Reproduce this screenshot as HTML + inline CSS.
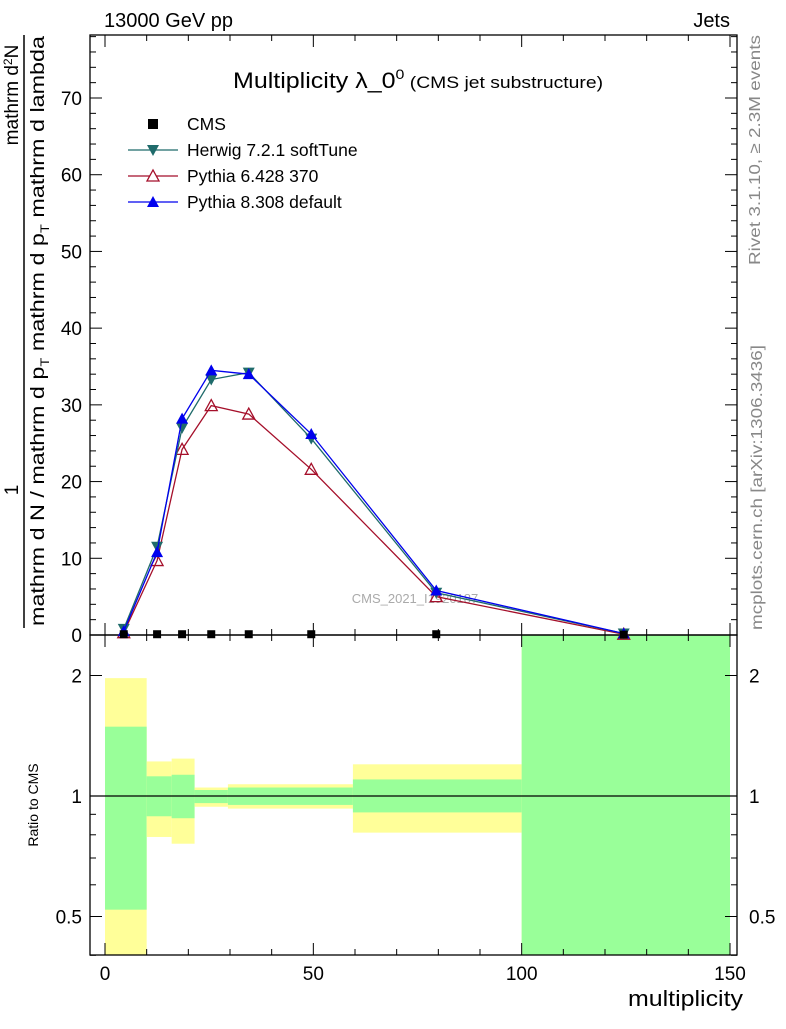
<!DOCTYPE html>
<html><head><meta charset="utf-8"><style>
body{margin:0;background:#fff;font-family:"Liberation Sans",sans-serif}
</style></head><body>
<svg id="c" width="786" height="1024" xmlns="http://www.w3.org/2000/svg" font-family="Liberation Sans, sans-serif">
<text x="104" y="27" font-size="20">13000 GeV pp</text>
<text x="730" y="27" font-size="20" text-anchor="end">Jets</text>
<text x="233" y="88" font-size="22" textLength="370" lengthAdjust="spacingAndGlyphs">Multiplicity λ_0<tspan font-size="14" dy="-9">0</tspan><tspan font-size="17" dy="9"> (CMS jet substructure)</tspan></text>
<text transform="translate(760,265) rotate(-90)" font-size="16" fill="#888" textLength="230" lengthAdjust="spacingAndGlyphs">Rivet 3.1.10, ≥ 2.3M events</text>
<text transform="translate(762,630) rotate(-90)" font-size="16" fill="#888" textLength="285" lengthAdjust="spacingAndGlyphs">mcplots.cern.ch [arXiv:1306.3436]</text>
<text x="415" y="603" font-size="13" fill="#aaa" text-anchor="middle">CMS_2021_I1920187</text>
<g>
<text transform="translate(18,95) rotate(-90)" font-size="19" text-anchor="middle">mathrm d<tspan font-size="12" dy="-6">2</tspan><tspan dy="6">N</tspan></text>
<text transform="translate(18,490) rotate(-90)" font-size="19" text-anchor="middle">1</text>
<line x1="24" y1="35" x2="24" y2="628" stroke="#000" stroke-width="1.5"/>
<text transform="translate(44,626) rotate(-90)" font-size="19" textLength="590" lengthAdjust="spacingAndGlyphs">mathrm d N / mathrm d p<tspan font-size="12" dy="5">T</tspan><tspan dy="-5"> mathrm d p</tspan><tspan font-size="12" dy="5">T</tspan><tspan dy="-5"> mathrm d lambda</tspan></text>
</g>
<text transform="translate(38,805) rotate(-90)" font-size="14" text-anchor="middle">Ratio to CMS</text>
<text x="743" y="1006" font-size="22" text-anchor="end" textLength="115" lengthAdjust="spacingAndGlyphs">multiplicity</text>
<g id="main"></g>
</svg>
<script>
const xVals=[4.5,12.5,18.5,25.5,34.5,49.5,79.5,124.5];
const cms=[0.1,0.1,0.1,0.1,0.1,0.1,0.1,0.05];
const herwig=[0.8,11.5,27.0,33.3,34.2,25.6,5.5,0.2];
const py6=[0.3,9.7,24.2,29.9,28.8,21.6,5.0,0.1];
const py8=[0.5,10.8,28.2,34.5,34.0,26.2,5.8,0.2];
const binEdges=[0,10,16,21.5,29.5,59.5,100,150];
const yelLo=[0.36,0.79,0.76,0.94,0.93,0.81,0.35];
const yelHi=[1.97,1.22,1.24,1.05,1.07,1.20,2.6];
const grnLo=[0.52,0.89,0.88,0.96,0.95,0.91,0.35];
const grnHi=[1.49,1.12,1.13,1.035,1.05,1.10,2.6];
const xTicks=[0,50,100,150];
const yTicks=[0,10,20,30,40,50,60,70];
const rTicks=[0.5,1,2];
const NS="http://www.w3.org/2000/svg";
const g=document.getElementById('main');
const L=90,R=737,T=35,M=635,B=955;
const X=v=>105+v*(625/150);
const Y=v=>635-v*(537/70);
const RY=v=>796-Math.log2(v)*120.5;
function mk(t,a,p){const e=document.createElementNS(NS,t);for(const k in a)e.setAttribute(k,a[k]);(p||g).appendChild(e);return e;}
const clip=mk('clipPath',{id:'rc'});mk('rect',{x:L,y:M,width:R-L,height:B-M},clip);
const rg=mk('g',{'clip-path':'url(#rc)'});
for(let i=0;i<yelLo.length;i++){
 const x0=X(binEdges[i]),x1=X(binEdges[i+1]);
 const y=mk('rect',{x:x0,y:RY(yelHi[i]),width:x1-x0,height:RY(yelLo[i])-RY(yelHi[i]),fill:'#ffff99'},rg);
 
 
 const gr=mk('rect',{x:x0,y:RY(grnHi[i]),width:x1-x0,height:RY(grnLo[i])-RY(grnHi[i]),fill:'#99ff99'},rg);
 
 
}
mk('line',{x1:L,x2:R,y1:RY(1),y2:RY(1),stroke:'#000','stroke-width':1.2});
mk('rect',{x:L,y:T,width:R-L,height:M-T,fill:'none',stroke:'#000','stroke-width':1.3});
mk('rect',{x:L,y:M,width:R-L,height:B-M,fill:'none',stroke:'#000','stroke-width':1.3});
for(let v=0;v<=150;v+=10){const x=X(v),len=v%50==0?12:6;
 mk('line',{x1:x,x2:x,y1:M,y2:M-len,stroke:'#000'});mk('line',{x1:x,x2:x,y1:T,y2:T+len,stroke:'#000'});
 mk('line',{x1:x,x2:x,y1:B,y2:B-len,stroke:'#000'});mk('line',{x1:x,x2:x,y1:M,y2:M+len,stroke:'#000'});}
xTicks.forEach(v=>{const t=mk('text',{x:X(v),y:980,'font-size':19,'text-anchor':'middle'});t.textContent=v;
 
 });
for(let v=0;v<=78;v+=2){const y=Y(v),len=v%10==0?12:6;if(y<T)break;
 mk('line',{x1:L,x2:L+len,y1:y,y2:y,stroke:'#000'});mk('line',{x1:R,x2:R-len,y1:y,y2:y,stroke:'#000'});}
yTicks.forEach(v=>{const t=mk('text',{x:L-8,y:Y(v)+7,'font-size':19,'text-anchor':'end'});t.textContent=v;
 
 });
[0.4,0.5,0.6,0.7,0.8,0.9,1,2].forEach(v=>{const y=RY(v),len=(v==0.5||v==1||v==2)?12:6;
 mk('line',{x1:L,x2:L+len,y1:y,y2:y,stroke:'#000'});mk('line',{x1:R,x2:R-len,y1:y,y2:y,stroke:'#000'});});
rTicks.forEach(v=>{const a=mk('text',{x:L-8,y:RY(v)+7,'font-size':19,'text-anchor':'end'});a.textContent=v;
 
 
 const b=mk('text',{x:R+12,y:RY(v)+7,'font-size':19});b.textContent=v;
 
 });
function series(vals,col,marker,name){
 const pts=xVals.map((x,i)=>X(x)+','+Y(vals[i])).join(' ');
 const pl=mk('polyline',{points:pts,fill:'none',stroke:col,'stroke-width':1.3});
 
 
 xVals.forEach((x,i)=>{const cx=X(x),cy=Y(vals[i]);let m;
  if(marker=='down')m=mk('polygon',{points:`${cx-6},${cy-5} ${cx+6},${cy-5} ${cx},${cy+6}`,fill:col});
  else if(marker=='upo')m=mk('polygon',{points:`${cx-6},${cy+5} ${cx+6},${cy+5} ${cx},${cy-6}`,fill:'none',stroke:col,'stroke-width':1.3});
  else m=mk('polygon',{points:`${cx-6},${cy+5} ${cx+6},${cy+5} ${cx},${cy-6}`,fill:col});
  
  });
}
series(py6,'#a50f2a','upo','pythia6');
series(herwig,'#1f6b6b','down','herwig');
series(py8,'#0000ee','up','pythia8');
xVals.forEach((x,i)=>{const s=mk('rect',{x:X(x)-4,y:Y(cms[i])-4,width:8,height:8,fill:'#000'});
 
 });
const leg=[['CMS','#000','sq'],['Herwig 7.2.1 softTune','#1f6b6b','down'],['Pythia 6.428 370','#a50f2a','upo'],['Pythia 8.308 default','#0000ee','up']];
leg.forEach((l,i)=>{const y=124+i*26,cx=153;
 if(l[2]!='sq')mk('line',{x1:128,x2:178,y1:y,y2:y,stroke:l[1],'stroke-width':1.3});
 let m;
 if(l[2]=='sq')m=mk('rect',{x:cx-5,y:y-5,width:10,height:10,fill:'#000'});
 else if(l[2]=='down')m=mk('polygon',{points:`${cx-6},${y-5} ${cx+6},${y-5} ${cx},${y+6}`,fill:l[1]});
 else if(l[2]=='upo')m=mk('polygon',{points:`${cx-6},${y+5} ${cx+6},${y+5} ${cx},${y-6}`,fill:'#fff',stroke:l[1],'stroke-width':1.3});
 else m=mk('polygon',{points:`${cx-6},${y+5} ${cx+6},${y+5} ${cx},${y-6}`,fill:l[1]});
 
 
 const t=mk('text',{x:187,y:y+6,'font-size':17.5});t.textContent=l[0];
 
 });
</script>
</body></html>
